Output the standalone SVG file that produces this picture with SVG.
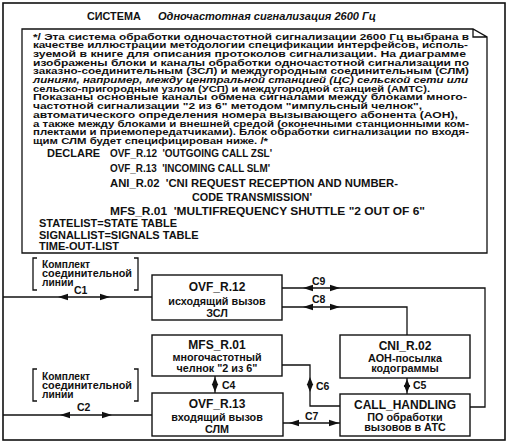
<svg xmlns="http://www.w3.org/2000/svg" xmlns:xlink="http://www.w3.org/1999/xlink" width="513" height="445" viewBox="0 0 513 445">
<style>
text{font-family:"Liberation Sans",Arial,sans-serif;font-weight:bold;fill:#111}
.ln{fill:none;stroke:#111;stroke-width:1.3}
.bx{fill:#fff;stroke:#111;stroke-width:1.4}
.cm{font-size:9.6px}
.it{font-style:italic}
.dc{font-size:11px}
.nm{font-size:12px;text-anchor:middle}
.ru{font-size:10.8px;text-anchor:middle}
.kp{font-size:10.2px}
.lb{font-size:10.5px}
</style>
<defs>
<path id="ah" d="M0,0 L-10,-3.2 L-10,3.2 Z" fill="#111"/>
<path id="as" d="M0,0 L-8,-3.2 L-8,3.2 Z" fill="#111"/>
</defs>
<rect x="0" y="0" width="513" height="445" fill="#fff"/>
<rect id="frame" x="3" y="3" width="502" height="437" fill="none" stroke="#111" stroke-width="1.6"/>
<g id="title">
<text x="87" y="20" font-size="10.8px">СИСТЕМА</text>
<text x="158" y="20" font-size="10px" class="it" textLength="218" lengthAdjust="spacingAndGlyphs">Одночастотная сигнализация 2600 Гц</text>
</g>
<g id="comment">
<path class="ln" d="M22,29 H473 L487,37 V253 H22 Z M473,29 V37 H487"/>
<text class="cm" x="33" y="39.5" textLength="436" lengthAdjust="spacingAndGlyphs">*/ Эта система обработки одночастотной  сигнализации 2600 Гц выбрана в</text>
<text class="cm" x="33" y="48.2" textLength="435" lengthAdjust="spacingAndGlyphs">качестве иллюстрации методологии спецификации  интерфейсов,  исполь-</text>
<text class="cm" x="33" y="56.9" textLength="433" lengthAdjust="spacingAndGlyphs">зуемой в книге  для  описания  протоколов  сигнализации.  На  диаграмме</text>
<text class="cm" x="33" y="65.6" textLength="436" lengthAdjust="spacingAndGlyphs">изображены блоки  и  каналы  обработки  одночастотной  сигнализации по</text>
<text class="cm" x="33" y="74.3" textLength="436" lengthAdjust="spacingAndGlyphs">заказно-соединительным (ЗСЛ) и  междугородным соединительным (СЛМ)</text>
<text class="cm it" x="33" y="83" textLength="435" lengthAdjust="spacingAndGlyphs">линиям, например, между центральной станцией (ЦС) сельской сети или</text>
<text class="cm" x="33" y="91.7" textLength="397" lengthAdjust="spacingAndGlyphs">сельско-пригородным узлом (УСП) и междугородной станцией (АМТС).</text>
<text class="cm" x="33" y="100.4" textLength="434" lengthAdjust="spacingAndGlyphs">Показаны основные  каналы  обмена  сигналами  между блоками много-</text>
<text class="cm" x="33" y="109.1" textLength="389" lengthAdjust="spacingAndGlyphs">частотной сигнализации  "2  из  6"  методом "импульсный челнок",</text>
<text class="cm" x="33" y="117.8" textLength="425" lengthAdjust="spacingAndGlyphs">автоматического определения номера вызывающего абонента (АОН),</text>
<text class="cm" x="33" y="126.5" textLength="436" lengthAdjust="spacingAndGlyphs">а также между блоками и внешней средой (оконечными станционными ком-</text>
<text class="cm" x="33" y="135.2" textLength="436" lengthAdjust="spacingAndGlyphs">плектами и приемопередатчиками). Блок обработки сигнализации по входя-</text>
<text class="cm" x="33" y="143.9" textLength="235" lengthAdjust="spacingAndGlyphs">щим СЛМ  будет специфицирован ниже. /*</text>
<text class="dc" x="47" y="157">DECLARE</text>
<text class="dc" x="110" y="157" textLength="162" lengthAdjust="spacingAndGlyphs" xml:space="preserve">OVF_R.12  'OUTGOING CALL ZSL'</text>
<text class="dc" x="110" y="172" textLength="160" lengthAdjust="spacingAndGlyphs" xml:space="preserve">OVF_R.13  'INCOMING CALL SLM'</text>
<text class="dc" x="110" y="187" textLength="288" lengthAdjust="spacingAndGlyphs" xml:space="preserve">ANI_R.02  'CNI REQUEST RECEPTION AND NUMBER-</text>
<text class="dc" x="192" y="201" textLength="120" lengthAdjust="spacingAndGlyphs">CODE TRANSMISSION'</text>
<text class="dc" x="110" y="215" textLength="315" lengthAdjust="spacingAndGlyphs" xml:space="preserve">MFS_R.01  'MULTIFREQUENCY SHUTTLE "2 OUT OF 6"</text>
<text class="dc" x="39" y="227">STATELIST=STATE TABLE</text>
<text class="dc" x="39" y="239">SIGNALLIST=SIGNALS TABLE</text>
<text class="dc" x="39" y="250">TIME-OUT-LIST</text>
</g>
<g id="env1">
<path class="ln" d="M37,258 H33 V290 H37 M134,258 H138 V290 H134"/>
<text class="kp" x="42" y="268">Комплект</text>
<text class="kp" x="42" y="277" textLength="90" lengthAdjust="spacingAndGlyphs">соединительной</text>
<text class="kp" x="42" y="286">линии</text>
</g>
<g id="env2">
<path class="ln" d="M37,369 H33 V401 H37 M134,369 H138 V401 H134"/>
<text class="kp" x="42" y="380">Комплект</text>
<text class="kp" x="42" y="389" textLength="90" lengthAdjust="spacingAndGlyphs">соединительной</text>
<text class="kp" x="42" y="398">линии</text>
</g>
<g id="connectors">
<path class="ln" d="M3,297 H152"/>
<use xlink:href="#ah" transform="translate(58,297) rotate(180)"/>
<use xlink:href="#ah" transform="translate(110,297)"/>
<text class="lb" x="74" y="294">C1</text>
<path class="ln" d="M3,415 H152"/>
<use xlink:href="#ah" transform="translate(60,415) rotate(180)"/>
<use xlink:href="#ah" transform="translate(112,415)"/>
<text class="lb" x="77" y="411">C2</text>
<path class="ln" d="M282,288 H485 V407 H470"/>
<use xlink:href="#ah" transform="translate(303,288) rotate(180)"/>
<use xlink:href="#ah" transform="translate(340,288)"/>
<text class="lb" x="312" y="285">C9</text>
<path class="ln" d="M282,307 H407 V335"/>
<use xlink:href="#ah" transform="translate(303,307) rotate(180)"/>
<use xlink:href="#ah" transform="translate(340,307)"/>
<text class="lb" x="312" y="303">C8</text>
<path class="ln" d="M215,376 V393"/>
<use xlink:href="#as" transform="translate(215,377) rotate(-90)"/>
<use xlink:href="#as" transform="translate(215,392) rotate(90)"/>
<text class="lb" x="222" y="389">C4</text>
<path class="ln" d="M282,365 H310 V406 H340"/>
<use xlink:href="#as" transform="translate(310,377) rotate(-90)"/>
<use xlink:href="#as" transform="translate(310,392) rotate(90)"/>
<text class="lb" x="316" y="390">C6</text>
<path class="ln" d="M407,378 V394"/>
<use xlink:href="#as" transform="translate(407,379) rotate(-90)"/>
<use xlink:href="#as" transform="translate(407,393) rotate(90)"/>
<text class="lb" x="413" y="389">C5</text>
<path class="ln" d="M283,423 H340"/>
<use xlink:href="#ah" transform="translate(289,423) rotate(180)"/>
<use xlink:href="#ah" transform="translate(339,423)"/>
<text class="lb" x="305" y="420">C7</text>
</g>
<g id="ovf12">
<rect class="bx" x="152" y="275" width="130" height="45"/>
<text class="nm" x="217" y="291">OVF_R.12</text>
<text class="ru" x="217" y="305">исходящий вызов</text>
<text class="ru" x="217" y="317">ЗСЛ</text>
</g>
<g id="mfs01">
<rect class="bx" x="152" y="335" width="130" height="41"/>
<text class="nm" x="217" y="349">MFS_R.01</text>
<text class="ru" x="217" y="361">многочастотный</text>
<text class="ru" x="217" y="372">челнок "2 из 6"</text>
</g>
<g id="ovf13">
<rect class="bx" x="152" y="393" width="131" height="43"/>
<text class="nm" x="217" y="408">OVF_R.13</text>
<text class="ru" x="217" y="421">входящий вызов</text>
<text class="ru" x="217" y="433">СЛМ</text>
</g>
<g id="cni02">
<rect class="bx" x="340" y="335" width="130" height="43"/>
<text class="nm" x="405" y="350">CNI_R.02</text>
<text class="ru" x="405" y="362">АОН-посылка</text>
<text class="ru" x="405" y="372">кодограммы</text>
</g>
<g id="callhandling">
<rect class="bx" x="340" y="394" width="130" height="42"/>
<text class="nm" x="405" y="409">CALL_HANDLING</text>
<text class="ru" x="405" y="421">ПО обработки</text>
<text class="ru" x="405" y="430.5">вызовов в АТС</text>
</g>
</svg>
